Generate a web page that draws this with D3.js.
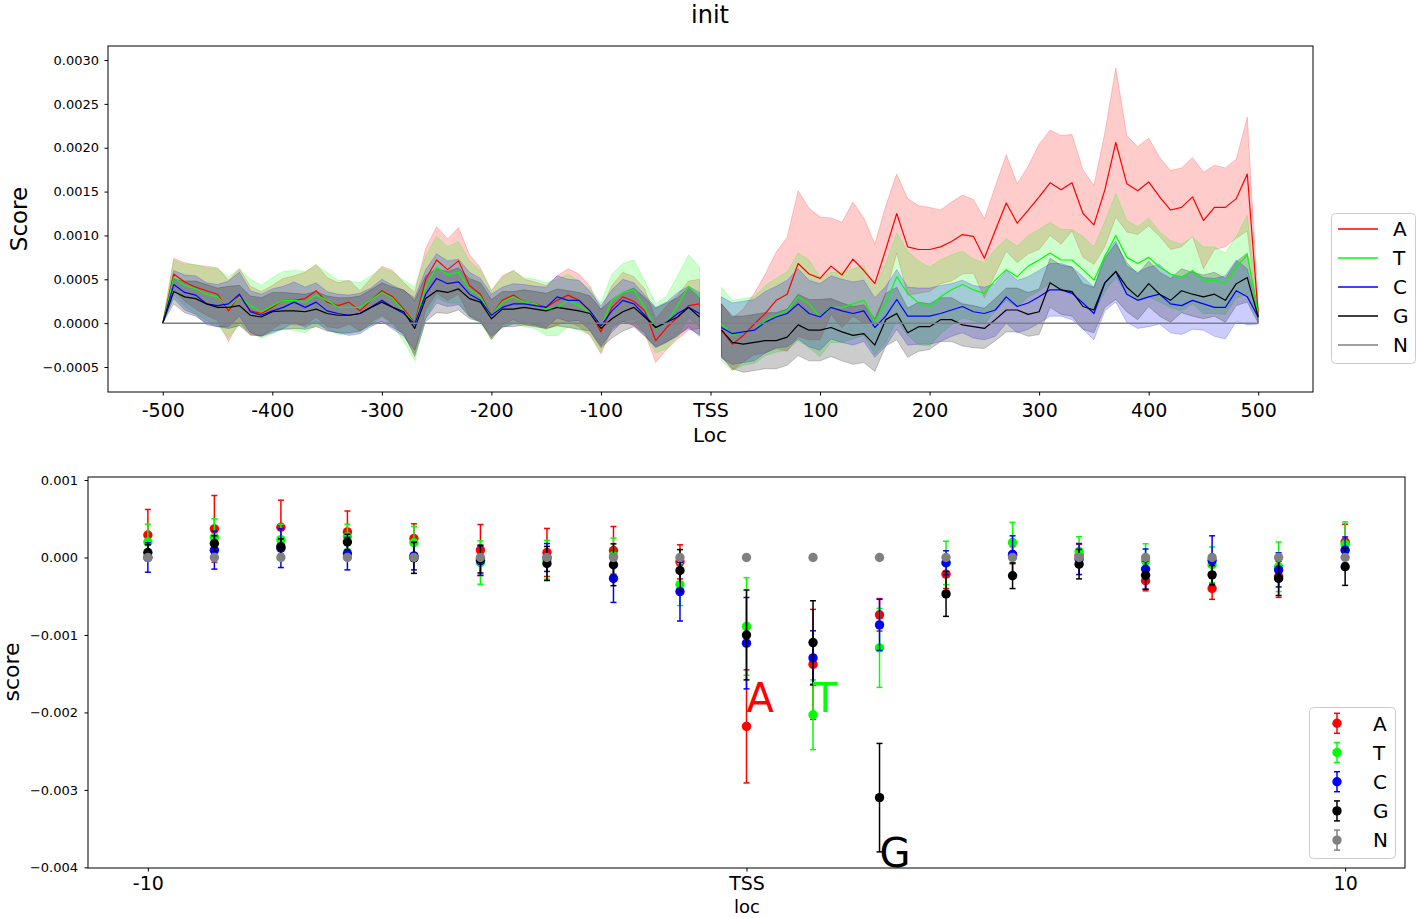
<!DOCTYPE html>
<html><head><meta charset="utf-8">
<script src="https://cdn.jsdelivr.net/npm/d3@7"></script>
<style>body{margin:0;background:#fff}svg{font-family:"DejaVu Sans",sans-serif;display:block}</style>
</head><body><svg id="c" width="1416" height="918"></svg>
<script>
// ---------------- TOP PANEL DATA (values in units of 1e-4) ----------------
const locLeft = [-500,-490,-480,-470,-460,-450,-440,-430,-420,-410,-400,-390,-380,-370,-360,-350,-340,-330,-320,-310,-300,-290,-280,-270,-260,-250,-240,-230,-220,-210,-200,-190,-180,-170,-160,-150,-140,-130,-120,-110,-100,-90,-80,-70,-60,-50,-40,-30,-20,-10];
const locRight = [10,20,30,40,50,60,70,80,90,100,110,120,130,140,150,160,170,180,190,200,210,220,230,240,250,260,270,280,290,300,310,320,330,340,350,360,370,380,390,400,410,420,430,440,450,460,470,480,490,500];

const A_left = [0,5.6,4.7,4.1,3.7,3.3,1.4,3.2,1.4,1.1, 1.8,2.6,2.6,2.8,3.7,2.4,2.0,2.4,1.4,2.6, 3.7,3.0,1.6,0.0,5.0,7.2,6.1,7.1,4.3,3.3, 0.9,2.6,3.2,2.4,2.2,1.8,2.6,3.2,2.6,1.4, -1.0,1.8,3.0,2.5,1.4,-2.0,-0.5,0.7,2.0,2.2];
const A_right = [-0.8,-2.4,-1.4,-0.1,1.1,2.6,3.3,6.8,5.6,5.1, 6.5,5.5,7.3,6.0,4.5,8.4,12.5,8.7,8.4,8.4, 8.7,9.3,10.1,9.9,7.4,10.6,13.7,11.4,12.9,14.4, 16.0,15.2,16.0,12.5,11.2,15.2,20.6,15.9,15.1,16.1, 14.4,12.9,13.2,14.4,11.7,13.2,13.2,14.2,17.0,1.0];
const A_bandL = [0,1.8,2.2,2.5,2.8,3.0,3.5,3.0,2.8,2.5, 2.5,2.5,2.8,3.0,3.0,2.8,2.6,2.5,2.3,2.5, 2.8,3.0,3.0,3.5,3.5,3.8,3.5,3.8,3.5,3.0, 2.8,2.8,2.8,2.6,2.5,2.5,2.8,3.0,3.0,2.8, 2.5,2.5,2.8,2.8,2.5,2.5,2.5,2.5,2.8,2.8];
const A_bandR = [3.0,3.0,3.0,3.5,4.5,5.5,6.5,8.3,7.5,7.0, 5.5,6.0,6.5,6.0,4.5,5.0,4.5,5.5,5.0,4.8, 4.2,4.5,4.5,4.2,4.5,5.0,5.5,4.5,5.0,6.0, 6.0,6.2,5.5,5.0,4.5,6.5,8.5,5.5,5.0,5.0, 4.5,4.5,4.5,4.5,5.5,4.8,4.5,4.5,6.5,1.0];

const T_left = [0,5.2,4.3,3.9,3.3,3.0,1.8,3.0,2.0,1.3, 2.0,2.6,2.6,2.4,3.2,2.6,1.8,1.8,1.8,2.6, 3.5,2.8,1.4,-0.1,4.1,6.4,5.5,5.8,3.9,3.0, 0.9,2.4,3.0,2.4,2.2,1.6,1.8,2.6,2.0,1.3, -0.5,2.6,3.5,3.8,1.8,-0.6,0.1,2.0,4.2,3.0];
const T_right = [-0.1,-1.4,-1.0,-0.8,0.3,0.9,1.4,3.0,2.2,0.7, 1.8,1.8,2.2,2.6,0.2,2.3,5.3,3.4,2.3,1.9, 3.0,3.8,4.4,3.8,3.4,4.9,6.1,5.3,6.5,7.2, 8.0,7.2,7.2,6.1,4.9,7.6,10.0,7.5,6.8,7.5, 6.4,5.6,5.2,6.0,4.9,4.9,4.5,6.4,7.8,1.0];
const T_bandL = [0,2.0,2.4,2.8,3.0,3.2,3.5,3.2,3.0,3.0, 3.2,3.3,3.4,3.5,3.4,3.2,3.1,3.0,2.8,2.8, 2.8,3.0,3.5,4.2,3.5,3.5,3.2,3.5,3.2,3.0, 2.8,2.8,3.0,2.8,2.8,3.0,3.2,3.0,2.8,2.6, 2.8,3.0,3.3,3.4,3.0,2.8,3.0,3.4,3.6,3.4];
const T_bandR = [4.2,4.0,3.8,3.8,4.0,4.2,4.5,5.0,5.0,4.5, 4.0,4.0,4.0,4.0,3.8,4.5,5.0,4.8,4.8,4.5, 4.2,4.0,3.8,3.5,3.5,3.5,3.5,3.5,3.5,3.5, 3.5,3.5,3.5,3.8,3.8,4.0,4.8,4.2,4.2,4.5, 4.0,3.8,3.8,3.8,3.8,3.8,3.5,3.5,4.5,0.8];

const C_left = [0,4.4,3.5,3.2,2.2,2.0,2.2,3.3,1.3,0.9, 1.4,1.8,2.4,1.8,2.4,1.4,1.1,0.9,1.1,1.8, 2.6,1.8,1.1,-0.1,3.3,5.1,4.5,4.7,3.3,2.6, 0.9,1.8,2.2,2.2,2.0,1.8,3.0,2.6,2.6,1.4, -0.3,1.4,2.6,2.2,0.9,-0.5,0.1,1.1,1.8,1.1];
const C_right = [-0.5,-1.2,-1.0,-0.8,0.1,0.7,1.1,2.2,1.1,0.7, 1.8,1.4,1.1,1.4,-0.5,0.8,2.7,0.8,0.8,0.8, 1.1,1.5,1.9,1.3,1.1,1.5,3.0,1.9,2.3,3.0, 3.8,3.8,3.4,2.3,1.1,4.6,5.9,3.3,2.6,3.0, 3.3,2.2,2.0,2.6,2.2,1.8,1.8,3.7,3.0,0.7];
const C_bandL = [0,1.6,2.0,2.2,2.4,2.4,2.6,2.5,2.4,2.4, 2.5,2.4,2.3,2.3,2.2,2.2,2.2,2.3,2.3,2.2, 2.4,2.5,2.6,3.0,2.8,2.8,2.6,2.6,2.5,2.5, 2.4,2.3,2.3,2.2,2.2,2.3,2.4,2.4,2.3,2.2, 2.3,2.4,2.4,2.4,2.3,2.3,2.3,2.4,2.4,2.4];
const C_bandR = [3.5,3.5,3.5,3.5,3.5,3.5,3.8,4.0,3.8,3.8, 3.6,3.6,3.6,3.5,3.4,3.4,3.4,3.3,3.2,3.2, 3.2,3.0,3.0,3.0,3.0,3.0,3.0,3.0,3.0,3.0, 3.0,3.0,3.0,3.0,3.0,3.2,3.5,3.2,3.2,3.4, 3.4,3.3,3.3,3.3,3.0,3.3,3.6,3.5,3.2,0.8];

const G_left = [0,3.6,3.0,2.8,2.2,1.8,1.8,2.0,0.9,0.7, 1.3,1.4,1.4,1.3,1.6,1.1,0.9,0.9,1.1,1.8, 2.4,1.8,1.3,-0.6,2.8,3.7,3.5,3.9,2.8,2.4, 0.5,1.6,1.6,1.8,1.6,1.4,1.8,1.6,1.4,1.1, -0.6,0.5,1.3,1.8,0.7,-0.5,0.1,0.7,1.8,0.7];
const G_right = [-0.8,-2.2,-2.4,-2.2,-2.0,-2.0,-1.6,-0.2,-0.8,-0.8, -0.5,-1.0,-1.4,-1.2,-2.5,0.4,1.1,-1.1,-0.4,-0.4, 0.4,0.4,-0.2,-0.4,-0.6,0.4,1.5,1.5,1.0,1.3, 4.6,3.8,3.6,1.9,1.5,4.6,5.9,4.1,3.0,4.5, 3.3,2.6,3.7,3.3,3.0,3.3,2.6,4.5,5.2,0.7];
const G_bandL = [0,1.4,1.8,2.0,2.2,2.2,2.4,2.3,2.2,2.2, 2.2,2.1,2.0,2.0,2.0,2.0,2.0,2.0,2.0,2.0, 2.2,2.3,2.5,3.2,2.6,2.5,2.4,2.4,2.3,2.2, 2.2,2.0,2.0,2.0,2.0,2.0,2.1,2.1,2.1,2.0, 2.2,2.2,2.2,2.2,2.2,2.2,2.2,2.2,2.2,2.2];
const G_bandR = [3.0,3.0,3.2,3.2,3.2,3.2,3.2,3.5,3.5,3.5, 3.3,3.3,3.3,3.3,3.0,3.0,3.0,2.8,2.8,2.6, 2.5,2.5,2.4,2.4,2.3,2.4,2.5,2.5,2.5,2.6, 2.8,2.8,2.8,2.6,2.6,2.8,3.2,2.8,2.6,2.6, 2.5,2.5,2.5,2.5,2.5,2.5,2.5,2.5,2.8,0.7];

const N_left = [0,0,0,0,0,0,0,0,0,0, 0,0,0,0,0,0,0,0,0,0, 0,0,0,0,0,0,0,0,0,0, 0,0,0,0,0,0,0,0,0,0, 0,0,0,0,0,0,0,0,0,0];
const N_right = [0,0,0,0,0,0,0,0,0,0, 0,0,0,0,0,0,0,0,0,0, 0,0,0,0,0,0,0,0,0,0, 0,0,0,0,0,0,0,0,0,0, 0,0,0,0,0,0,0,0,0,0];

const topXTicks = [-500,-400,-300,-200,-100,0,100,200,300,400,500];
const topXLabels = ["-500","-400","-300","-200","-100","TSS","100","200","300","400","500"];
const topYTicks = [-0.0005,0,0.0005,0.0010,0.0015,0.0020,0.0025,0.0030];

// ---------------- BOTTOM PANEL DATA (values in units of 1e-3) ----------------
const pos = [0,1,2,3,4,5,6,7,8,9,10,11,12,13,14,15,16,17,18];
const bA = [0.29,0.37,0.39,0.33,0.245,0.096,0.065,0.09,-0.056,-2.18,-1.38,-0.74,-0.215,0.03,0.03,-0.30,-0.40,-0.245,0.20];
const bAerr = [0.33,0.43,0.35,0.27,0.19,0.33,0.31,0.31,0.22,0.73,0.71,0.21,0.185,0.11,0.14,0.13,0.14,0.27,0.23];
const bT = [0.20,0.26,0.23,0.27,0.19,-0.065,-0.03,0.02,-0.35,-0.89,-2.03,-1.167,-0.07,0.194,0.078,-0.043,-0.094,-0.12,0.17];
const bTerr = [0.23,0.24,0.20,0.16,0.21,0.28,0.25,0.23,0.27,0.63,0.45,0.51,0.28,0.26,0.19,0.22,0.23,0.32,0.29];
const bC = [0.0,0.095,0.12,0.05,0.02,-0.04,0.0,-0.27,-0.44,-1.106,-1.296,-0.87,-0.068,0.04,-0.02,-0.15,-0.04,-0.16,0.095];
const bCerr = [0.19,0.245,0.25,0.21,0.18,0.19,0.18,0.31,0.38,0.59,0.35,0.33,0.155,0.24,0.20,0.26,0.32,0.22,0.17];
const bG = [0.065,0.18,0.14,0.20,-0.005,-0.02,-0.077,-0.094,-0.168,-1.0,-1.098,-3.10,-0.47,-0.236,-0.086,-0.23,-0.224,-0.27,-0.12];
const bGerr = [0.10,0.10,0.10,0.10,0.20,0.18,0.22,0.27,0.27,0.58,0.54,0.70,0.29,0.165,0.19,0.18,0.12,0.22,0.24];
const bN = [0,0,0,0,0,0,0,0,0,0,0,0,0,0,0,0,0,0,0];
const bNerr = [0,0,0,0,0,0,0,0,0,0,0,0,0,0,0,0,0,0,0];

const botXTicks = [0,9,18];
const botXLabels = ["-10","TSS","10"];
const botYTicks = [-0.004,-0.003,-0.002,-0.001,0,0.001];
const annotations = [
  {text:"A", pos:9, val:-0.002, color:"#ff0000"},
  {text:"T", pos:10, val:-0.002, color:"#00ff00"},
  {text:"G", pos:11, val:-0.004, color:"#000000"}
];

const names = ["A","T","C","G","N"];
const colors = ["#ff0000","#00ff00","#0000ff","#000000","#808080"];

// ---------------- DRAW ----------------
const svg = d3.select("#c");
const S4 = 1e-4, S3 = 1e-3;

// Title
svg.append("text").attr("x",710).attr("y",23).attr("text-anchor","middle")
  .attr("font-size",24).text("init");

// ===== Top panel =====
const x1 = d3.scaleLinear().domain([-550,550]).range([108,1313]);
const y1 = d3.scaleLinear().domain([-0.000785,0.00316]).range([392,46]);

const topSeries = [
  {L:A_left,R:A_right,bL:A_bandL,bR:A_bandR},
  {L:T_left,R:T_right,bL:T_bandL,bR:T_bandR},
  {L:C_left,R:C_right,bL:C_bandL,bR:C_bandR},
  {L:G_left,R:G_right,bL:G_bandL,bR:G_bandR},
  {L:N_left,R:N_right,bL:null,bR:null}
];
const gTop = svg.append("g");
const area1 = d3.area().x(d=>x1(d.x)).y0(d=>y1(d.m-d.b)).y1(d=>y1(d.m+d.b));
const line1 = d3.line().x(d=>x1(d.x)).y(d=>y1(d.m));

function pts(xs, ms, bs){ return xs.map((x,i)=>({x:x, m:ms[i]*S4, b: bs? bs[i]*S4 : 0})); }

topSeries.forEach((s,k)=>{
  if(!s.bL) return;
  [[locLeft,s.L,s.bL],[locRight,s.R,s.bR]].forEach(([xs,ms,bs])=>{
    gTop.append("path").datum(pts(xs,ms,bs)).attr("d",area1)
      .attr("fill",colors[k]).attr("fill-opacity",0.2)
      .attr("stroke",colors[k]).attr("stroke-opacity",0.2).attr("stroke-width",1);
  });
});
topSeries.forEach((s,k)=>{
  [[locLeft,s.L],[locRight,s.R]].forEach(([xs,ms])=>{
    gTop.append("path").datum(pts(xs,ms,null)).attr("d",line1)
      .attr("fill","none").attr("stroke",colors[k]).attr("stroke-width",k===4?1.5:1.2)
      .attr("stroke-linejoin","round");
  });
});

gTop.append("rect").attr("x",108).attr("y",46).attr("width",1205).attr("height",346)
  .attr("fill","none").attr("stroke","#000").attr("stroke-width",1);

svg.append("g").attr("transform","translate(0,392)")
  .call(d3.axisBottom(x1).tickValues(topXTicks).tickFormat((d,i)=>topXLabels[i]).tickSize(3.5).tickPadding(8))
  .call(g=>{g.select(".domain").remove(); g.selectAll("text").attr("font-size",19).attr("fill","#000").attr("font-family","DejaVu Sans"); g.selectAll("line").attr("stroke","#000");});
svg.append("g").attr("transform","translate(108,0)")
  .call(d3.axisLeft(y1).tickValues(topYTicks).tickFormat(d3.format(".4f")).tickSize(3.5).tickPadding(5.5))
  .call(g=>{g.select(".domain").remove(); g.selectAll("text").attr("font-size",13).attr("fill","#000").attr("font-family","DejaVu Sans"); g.selectAll("line").attr("stroke","#000");});

svg.append("text").attr("x",710).attr("y",442).attr("text-anchor","middle").attr("font-size",20).text("Loc");
svg.append("text").attr("transform","translate(27,219) rotate(-90)").attr("text-anchor","middle").attr("font-size",23).text("Score");

// Top legend
const lg1 = svg.append("g");
lg1.append("rect").attr("x",1331.5).attr("y",213.5).attr("width",84).attr("height",150).attr("rx",4)
  .attr("fill","#fff").attr("fill-opacity",0.8).attr("stroke","#cccccc");
names.forEach((n,i)=>{
  const yy = 229 + 29*i;
  lg1.append("line").attr("x1",1338).attr("x2",1378).attr("y1",yy).attr("y2",yy)
    .attr("stroke",colors[i]).attr("stroke-width",1.5);
  lg1.append("text").attr("x",1393).attr("y",yy).attr("dy","0.36em").attr("font-size",20).text(n);
});

// ===== Bottom panel =====
const x2 = d3.scaleLinear().domain([-0.9,18.9]).range([88,1405]);
const y2 = d3.scaleLinear().domain([-0.004008,0.001039]).range([868,477]);
const gBot = svg.append("g");
const botSeries = [[bA,bAerr],[bT,bTerr],[bC,bCerr],[bG,bGerr],[bN,bNerr]];
botSeries.forEach(([vals,errs],k)=>{
  const g = gBot.append("g");
  const data = pos.map((p,i)=>({p:p, v:vals[i]*S3, e:errs[i]*S3}));
  data.forEach(d=>{
    if(d.e>0){
      const xx = x2(d.p);
      g.append("line").attr("x1",xx).attr("x2",xx).attr("y1",y2(d.v-d.e)).attr("y2",y2(d.v+d.e))
        .attr("stroke",colors[k]).attr("stroke-width",1.5);
      [d.v-d.e,d.v+d.e].forEach(c=>g.append("line").attr("x1",xx-3).attr("x2",xx+3).attr("y1",y2(c)).attr("y2",y2(c))
        .attr("stroke",colors[k]).attr("stroke-width",1.5));
    }
  });
  g.selectAll("circle").data(data).join("circle")
    .attr("cx",d=>x2(d.p)).attr("cy",d=>y2(d.v)).attr("r",4.7).attr("fill",colors[k]);
});

annotations.forEach(a=>{
  gBot.append("text").attr("x",x2(a.pos)).attr("y",y2(a.val)).attr("font-size",40)
    .attr("fill",a.color).text(a.text);
});

gBot.append("rect").attr("x",88).attr("y",477).attr("width",1317).attr("height",391)
  .attr("fill","none").attr("stroke","#000").attr("stroke-width",1);

svg.append("g").attr("transform","translate(0,868)")
  .call(d3.axisBottom(x2).tickValues(botXTicks).tickFormat((d,i)=>botXLabels[i]).tickSize(3.5).tickPadding(5.5))
  .call(g=>{g.select(".domain").remove(); g.selectAll("text").attr("font-size",19).attr("fill","#000").attr("font-family","DejaVu Sans"); g.selectAll("line").attr("stroke","#000");});
svg.append("g").attr("transform","translate(88,0)")
  .call(d3.axisLeft(y2).tickValues(botYTicks).tickFormat(d3.format(".3f")).tickSize(3.5).tickPadding(6.5))
  .call(g=>{g.select(".domain").remove(); g.selectAll("text").attr("font-size",13).attr("fill","#000").attr("font-family","DejaVu Sans"); g.selectAll("line").attr("stroke","#000");});

svg.append("text").attr("x",747).attr("y",913).attr("text-anchor","middle").attr("font-size",18).text("loc");
svg.append("text").attr("transform","translate(19,672) rotate(-90)").attr("text-anchor","middle").attr("font-size",22).text("score");

// Bottom legend
const lg2 = svg.append("g");
lg2.append("rect").attr("x",1309.5).attr("y",707.5).attr("width",86).attr("height",151).attr("rx",4)
  .attr("fill","#fff").attr("fill-opacity",0.8).attr("stroke","#cccccc");
names.forEach((n,i)=>{
  const yy = 723.3 + 29.2*i, xx = 1337;
  lg2.append("line").attr("x1",xx).attr("x2",xx).attr("y1",yy-10).attr("y2",yy+10).attr("stroke",colors[i]).attr("stroke-width",1.5);
  [yy-10,yy+10].forEach(c=>lg2.append("line").attr("x1",xx-3).attr("x2",xx+3).attr("y1",c).attr("y2",c).attr("stroke",colors[i]).attr("stroke-width",1.5));
  lg2.append("circle").attr("cx",xx).attr("cy",yy).attr("r",4.7).attr("fill",colors[i]);
  lg2.append("text").attr("x",1373).attr("y",yy).attr("dy","0.36em").attr("font-size",20).text(n);
});
</script></body></html>
